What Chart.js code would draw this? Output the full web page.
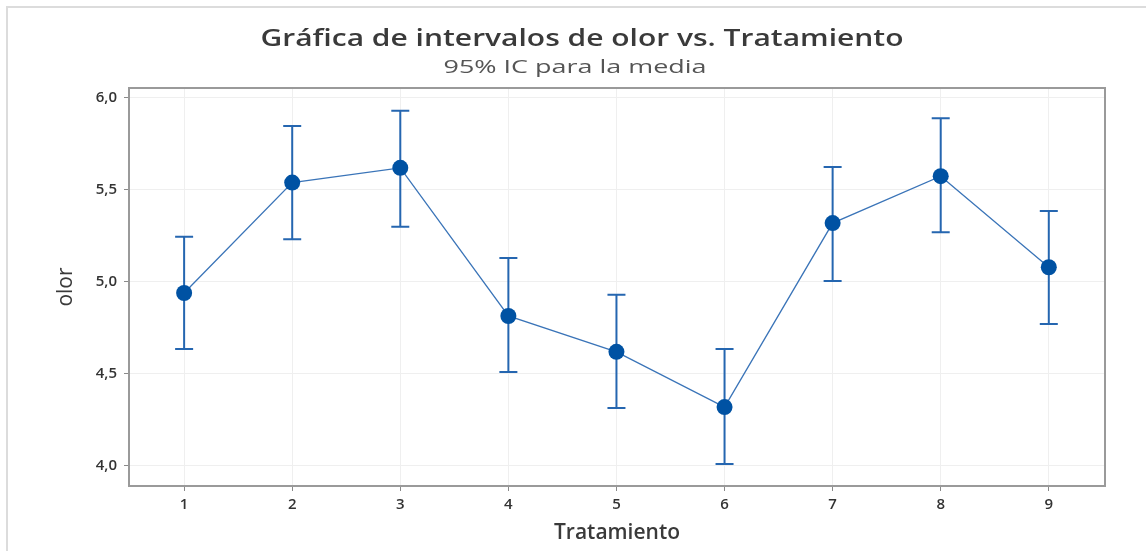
<!DOCTYPE html>
<html><head><meta charset="utf-8">
<script src="https://cdn.jsdelivr.net/npm/chart.js@4"></script>
<style>html,body{margin:0;padding:0;background:#fff;} #wrap{width:1146px;height:551px;position:relative;}</style>
</head><body><div id="wrap"><canvas id="c" width="1146" height="551"></canvas></div>
<script>
const titleText = 'Gráfica de intervalos de olor vs. Tratamiento';
const subtitleText = '95% IC para la media';
const xTitle = 'Tratamiento';
const yTitle = 'olor';
const categories = [1, 2, 3, 4, 5, 6, 7, 8, 9];
const means = [4.94, 5.54, 5.62, 4.815, 4.62, 4.32, 5.32, 5.575, 5.08];
const lower = [4.635, 5.232, 5.30, 4.51, 4.315, 4.01, 5.005, 5.27, 4.772];
const upper = [5.245, 5.848, 5.93, 5.13, 4.93, 4.636, 5.625, 5.89, 5.386];
const yTicks = [4.0, 4.5, 5.0, 5.5, 6.0];

const FONT = '"Open Sans", "Noto Sans", sans-serif';

const decorPlugin = {
  id: 'decor',
  beforeDraw(chart) {
    const ctx = chart.ctx;
    ctx.save();
    ctx.fillStyle = '#fff';
    ctx.fillRect(0, 0, chart.width, chart.height);
    ctx.strokeStyle = '#dcdcdc';
    ctx.lineWidth = 2;
    ctx.strokeRect(7, 7, chart.width + 10, chart.height + 10);
    ctx.restore();
  },
  afterDraw(chart) {
    const ctx = chart.ctx;
    const drawStretched = (text, font, color, cx, y, targetW) => {
      ctx.save();
      ctx.font = font;
      ctx.fillStyle = color;
      const w = ctx.measureText(text).width;
      ctx.translate(cx, y);
      ctx.scale(targetW / w, 1);
      ctx.textAlign = 'center';
      ctx.textBaseline = 'alphabetic';
      ctx.fillText(text, 0, 0);
      ctx.restore();
    };
    drawStretched(titleText, '600 24px ' + FONT, '#3a3a3a', 582, 46, 643);
    drawStretched(subtitleText, '400 19px ' + FONT, '#555', 575, 73, 263);
  }
};

const errorBarPlugin = {
  id: 'errorBars',
  beforeDatasetsDraw(chart) {
    const ctx = chart.ctx;
    const xs = chart.scales.x, ys = chart.scales.y;
    const a = chart.chartArea;
    ctx.save();
    ctx.strokeStyle = '#9a9a9a';
    ctx.lineWidth = 2;
    ctx.strokeRect(a.left, a.top, a.right - a.left, a.bottom - a.top);
    ctx.strokeStyle = '#2566b0';
    ctx.lineWidth = 2;
    categories.forEach((c, i) => {
      const x = xs.getPixelForValue(c);
      const yl = ys.getPixelForValue(lower[i]);
      const yu = ys.getPixelForValue(upper[i]);
      ctx.beginPath();
      ctx.moveTo(x, yl); ctx.lineTo(x, yu);
      ctx.moveTo(x - 9, yl); ctx.lineTo(x + 9, yl);
      ctx.moveTo(x - 9, yu); ctx.lineTo(x + 9, yu);
      ctx.stroke();
    });
    ctx.restore();
  }
};

new Chart(document.getElementById('c'), {
  type: 'line',
  data: {
    datasets: [{
      data: categories.map((c, i) => ({ x: c, y: means[i] })),
      borderColor: '#3a74b8',
      borderWidth: 1.3,
      pointRadius: 8,
      pointHoverRadius: 8,
      pointBackgroundColor: '#0052a3',
      pointBorderColor: '#0052a3',
      pointBorderWidth: 0,
      tension: 0,
      fill: false
    }]
  },
  options: {
    responsive: false,
    animation: false,
    devicePixelRatio: 1,
    layout: { padding: { top: 88, right: 41, bottom: 0, left: 0 } },
    plugins: {
      legend: { display: false },
      title: { display: false },
      tooltip: { enabled: false }
    },
    scales: {
      x: {
        type: 'linear',
        min: 0.49,
        max: 9.52,
        afterBuildTicks: s => { s.ticks = categories.map(v => ({ value: v })); },
        afterFit: s => { s.height = 65; },
        border: { display: false },
        grid: { color: '#efefef', lineWidth: 1, tickColor: '#8a8a8a', tickLength: 5 },
        ticks: {
          padding: 5,
          color: '#333',
          font: { family: FONT, size: 15, weight: '600' },
          callback: v => String(v)
        },
        title: {
          display: true,
          text: xTitle,
          color: '#3a3a3a',
          font: { family: FONT, size: 21, weight: '600' },
          padding: { top: 0, bottom: 5 }
        }
      },
      y: {
        min: 3.891,
        max: 6.054,
        afterBuildTicks: s => { s.ticks = yTicks.map(v => ({ value: v })); },
        afterFit: s => { s.width = 129; },
        border: { display: false },
        grid: { color: '#efefef', lineWidth: 1, tickColor: '#8a8a8a', tickLength: 5 },
        ticks: {
          padding: 7,
          color: '#333',
          font: { family: FONT, size: 15, weight: '600' },
          callback: v => v.toFixed(1).replace('.', ',')
        },
        title: {
          display: true,
          text: yTitle,
          color: '#3a3a3a',
          font: { family: FONT, size: 21, weight: '400' },
          padding: { top: 53, bottom: 0 }
        }
      }
    }
  },
  plugins: [decorPlugin, errorBarPlugin]
});
</script>
</body></html>
